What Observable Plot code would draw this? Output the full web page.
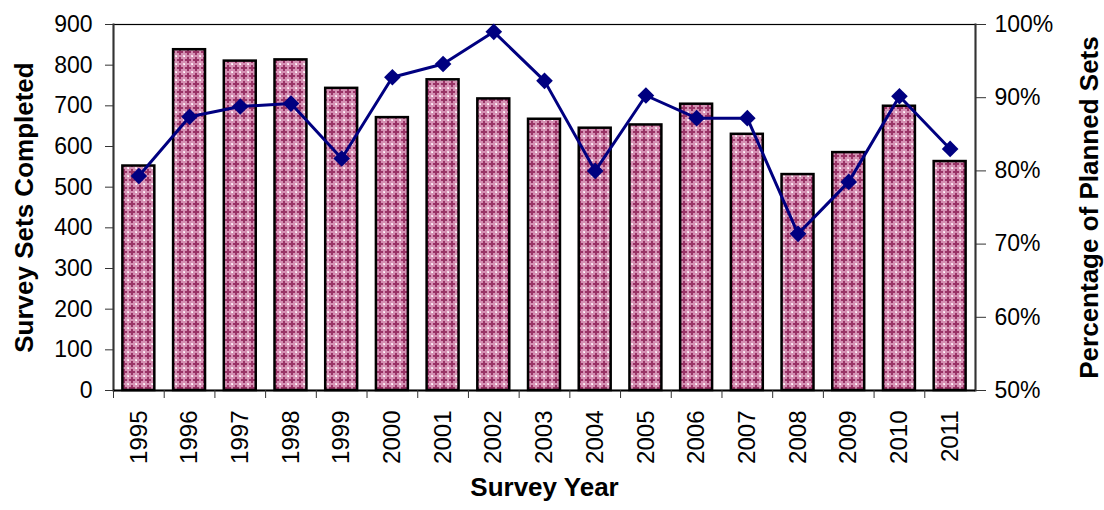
<!DOCTYPE html>
<html>
<head>
<meta charset="utf-8">
<script src="https://cdn.jsdelivr.net/npm/d3@7"></script>
<script src="https://cdn.jsdelivr.net/npm/@observablehq/plot@0.6"></script>
<style>
  html, body { margin: 0; padding: 0; background: #fff; }
  #chart svg { display: block; font-family: "Liberation Sans", Arial, sans-serif; }
</style>
</head>
<body>
<div id="chart"></div>
<script>
const years = ["1995","1996","1997","1998","1999","2000","2001","2002","2003","2004","2005","2006","2007","2008","2009","2010","2011"];
const setsCompleted = [552, 838, 810, 813, 743, 671, 764, 717, 667, 645, 653, 704, 630, 531, 585, 699, 563];
const pctPlanned = [79.3, 87.4, 88.8, 89.2, 81.7, 92.8, 94.6, 99.0, 92.3, 80.0, 90.3, 87.2, 87.2, 71.4, 78.5, 90.2, 83.0];
const leftTicks = [0, 100, 200, 300, 400, 500, 600, 700, 800, 900];
const rightTicks = [50, 60, 70, 80, 90, 100];

const yMax = 900;
const pctToY = p => (p - 50) / 50 * yMax;
const yToPct = v => v / yMax * 50 + 50;

const data = years.map((year, i) => ({year, sets: setsCompleted[i], pct: pctPlanned[i]}));

const W = 1104, H = 510;
const mL = 113, mR = 129, mT = 24, mB = 120;
const step = (W - mL - mR) / years.length;

const chart = Plot.plot({
  width: W,
  height: H,
  marginLeft: mL,
  marginRight: mR,
  marginTop: mT,
  marginBottom: mB,
  style: {fontFamily: "Liberation Sans, Arial, sans-serif", color: "#000", background: "#fff"},
  x: {domain: years, paddingInner: 0.37, paddingOuter: 0.185, round: false, axis: null},
  y: {domain: [0, yMax], axis: null},
  marks: [
    Plot.barY(data, {x: "year", y: "sets", fill: "url(#crossPat)", stroke: "#000", strokeWidth: 2.5}),
    Plot.frame({stroke: "#000", strokeWidth: 1.2}),
    Plot.frame({anchor: "left", stroke: "#333", strokeWidth: 2}),
    Plot.frame({anchor: "right", stroke: "#333", strokeWidth: 2}),
    Plot.ruleY([0], {stroke: "#000", strokeWidth: 2}),
    Plot.lineY(data, {x: "year", y: d => pctToY(d.pct), stroke: "#000080", strokeWidth: 3}),
    Plot.dot(data, {x: "year", y: d => pctToY(d.pct), symbol: "diamond2", r: 7.5, fill: "#000080", stroke: "none"}),
    Plot.axisY(leftTicks, {anchor: "left", tickSize: 8, tickPadding: 13, fontSize: 23, label: null, stroke: "#333"}),
    Plot.axisY(rightTicks.map(pctToY), {anchor: "right", tickSize: 10, tickPadding: 9, fontSize: 23, label: null, tickFormat: v => `${Math.round(yToPct(v))}%`, stroke: "#333"}),
    Plot.axisX({anchor: "bottom", tickSize: 8, tickFormat: () => "", dx: -step / 2, label: null, stroke: "#333"}),
    Plot.axisX({anchor: "bottom", tickSize: 0, tickPadding: 20, tickRotate: -90, fontSize: 24, label: null}),
    Plot.text(["Survey Sets Completed"], {frameAnchor: "left", textAnchor: "middle", dx: -89, rotate: -90, fontSize: 26, fontWeight: "bold", fill: "#000"}),
    Plot.text(["Percentage of Planned Sets"], {frameAnchor: "right", textAnchor: "middle", dx: 114, rotate: -90, fontSize: 26, fontWeight: "bold", fill: "#000"}),
    Plot.text(["Survey Year"], {frameAnchor: "bottom", dy: 105, fontSize: 26, fontWeight: "bold", fill: "#000"})
  ]
});

// pattern definition for the bar fill (dark plus signs on pink with light dots)
const svg = d3.select(chart);
const defs = svg.insert("defs", ":first-child");
const pat = defs.append("pattern")
  .attr("id", "crossPat")
  .attr("patternUnits", "userSpaceOnUse")
  .attr("width", 8).attr("height", 8);
pat.append("rect").attr("width", 8).attr("height", 8).attr("fill", "#d590b3");
pat.append("rect").attr("x", 3).attr("y", 1).attr("width", 2).attr("height", 6).attr("fill", "#993366");
pat.append("rect").attr("x", 1).attr("y", 3).attr("width", 6).attr("height", 2).attr("fill", "#993366");
pat.append("rect").attr("x", 0).attr("y", 0).attr("width", 1).attr("height", 1).attr("fill", "#ffffff");
pat.append("rect").attr("x", 7).attr("y", 7).attr("width", 1).attr("height", 1).attr("fill", "#f5dbe8");
pat.append("rect").attr("x", 7).attr("y", 0).attr("width", 1).attr("height", 1).attr("fill", "#f5dbe8");
pat.append("rect").attr("x", 0).attr("y", 7).attr("width", 1).attr("height", 1).attr("fill", "#f5dbe8");

document.getElementById("chart").appendChild(chart);
</script>
</body>
</html>
